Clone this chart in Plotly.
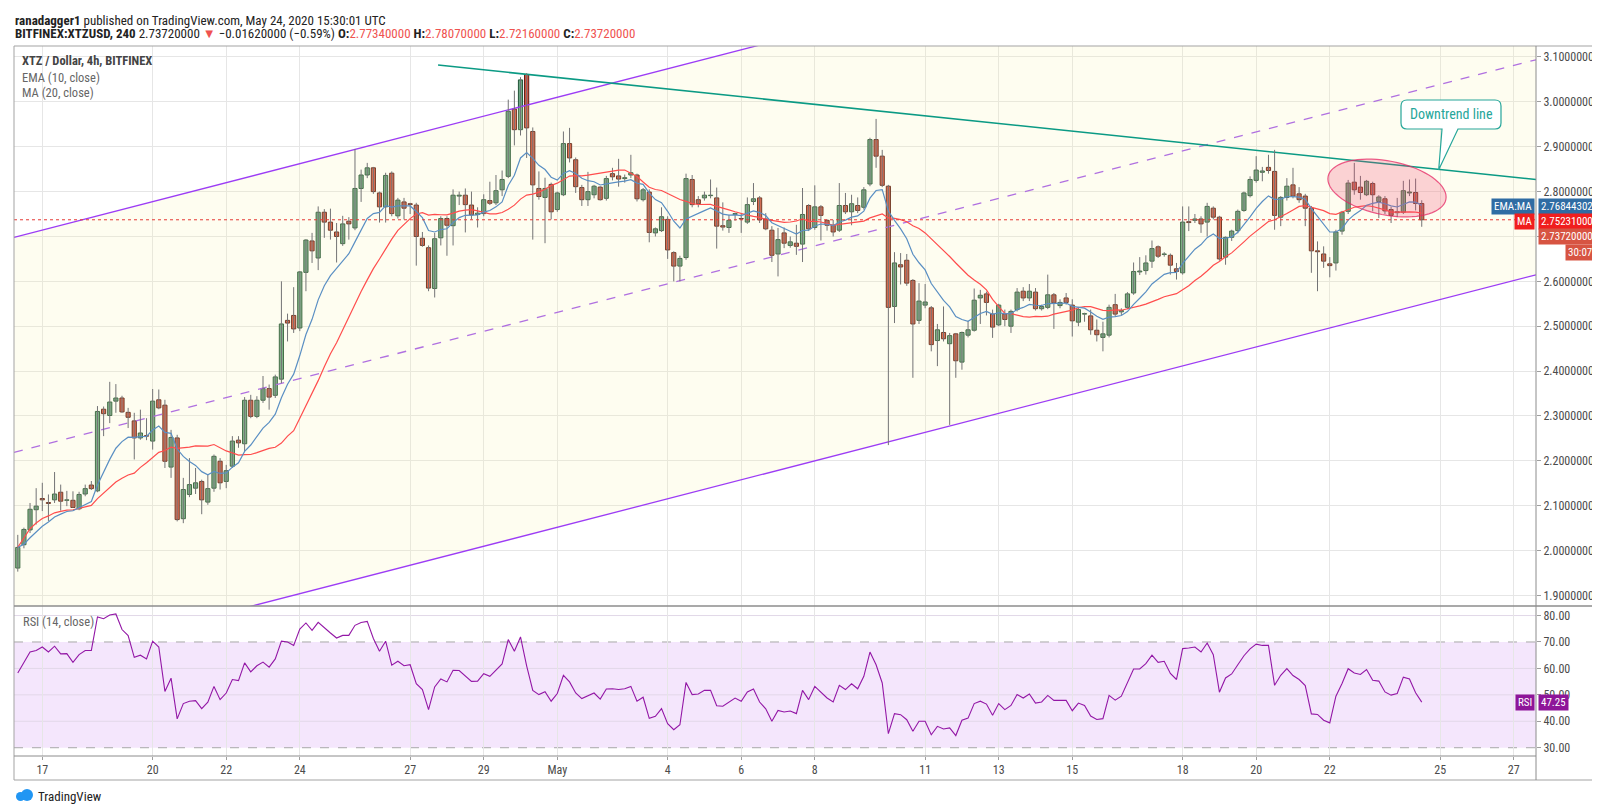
import numpy as np
import pandas as pd
import plotly.graph_objects as go

# BITFINEX:XTZUSD 4h candles, first one opens 16 Apr 2020 08:00 UTC
first_candle = '2020-04-16 08:00'

opens = [
    1.961, 2.013, 2.046, 2.091, 2.116, 2.107, 2.113, 2.130, 2.112, 2.112,
    2.093, 2.126, 2.146, 2.133, 2.315, 2.301, 2.333, 2.340, 2.308, 2.289,
    2.251, 2.256, 2.244, 2.336, 2.324, 2.186, 2.251, 2.071, 2.125, 2.139,
    2.154, 2.108, 2.139, 2.199, 2.154, 2.188, 2.246, 2.238, 2.335, 2.299,
    2.335, 2.361, 2.346, 2.382, 2.513, 2.524, 2.496, 2.620, 2.690, 2.652,
    2.754, 2.732, 2.710, 2.684, 2.734, 2.719, 2.807, 2.837, 2.853, 2.797,
    2.766, 2.841, 2.746, 2.777, 2.773, 2.770, 2.696, 2.675, 2.584, 2.697,
    2.740, 2.724, 2.790, 2.792, 2.770, 2.749, 2.751, 2.780, 2.775, 2.804,
    2.834, 2.984, 2.938, 3.061, 2.934, 2.807, 2.787, 2.816, 2.760, 2.793,
    2.907, 2.871, 2.809, 2.782, 2.793, 2.810, 2.785, 2.840, 2.835, 2.829,
    2.837, 2.837, 2.782, 2.799, 2.708, 2.713, 2.738, 2.664, 2.634, 2.653,
    2.827, 2.782, 2.786, 2.791, 2.786, 2.724, 2.720, 2.749, 2.740, 2.732,
    2.778, 2.786, 2.739, 2.714, 2.661, 2.708, 2.680, 2.685, 2.683, 2.769,
    2.720, 2.766, 2.736, 2.725, 2.714, 2.769, 2.755, 2.769, 2.765, 2.817,
    2.916, 2.879, 2.812, 2.544, 2.637, 2.647, 2.602, 2.513, 2.547, 2.541,
    2.468, 2.486, 2.461, 2.483, 2.420, 2.480, 2.491, 2.563, 2.572, 2.527,
    2.503, 2.527, 2.500, 2.537, 2.578, 2.563, 2.576, 2.539, 2.542, 2.570,
    2.546, 2.563, 2.547, 2.509, 2.527, 2.523, 2.491, 2.475, 2.480, 2.548,
    2.532, 2.542, 2.574, 2.621, 2.624, 2.645, 2.677, 2.660, 2.658, 2.628,
    2.619, 2.733, 2.736, 2.739, 2.732, 2.763, 2.743, 2.654, 2.698, 2.713,
    2.758, 2.791, 2.825, 2.843, 2.854, 2.845, 2.743, 2.787, 2.815, 2.795,
    2.790, 2.763, 2.668, 2.661, 2.639, 2.641, 2.712, 2.756, 2.821, 2.810,
    2.793, 2.818, 2.778, 2.784, 2.760, 2.753, 2.754, 2.797, 2.798, 2.7734,
]
highs = [
    2.035, 2.051, 2.106, 2.139, 2.151, 2.125, 2.175, 2.147, 2.133, 2.132,
    2.131, 2.147, 2.155, 2.322, 2.321, 2.376, 2.371, 2.345, 2.318, 2.307,
    2.314, 2.295, 2.360, 2.359, 2.336, 2.269, 2.258, 2.162, 2.206, 2.184,
    2.158, 2.169, 2.214, 2.206, 2.191, 2.255, 2.255, 2.342, 2.347, 2.344,
    2.389, 2.370, 2.392, 2.600, 2.528, 2.587, 2.623, 2.694, 2.708, 2.767,
    2.761, 2.762, 2.730, 2.746, 2.743, 2.895, 2.849, 2.864, 2.855, 2.800,
    2.842, 2.845, 2.786, 2.786, 2.775, 2.775, 2.710, 2.680, 2.708, 2.745,
    2.745, 2.805, 2.800, 2.807, 2.800, 2.765, 2.794, 2.822, 2.837, 2.847,
    3.005, 3.025, 3.055, 3.064, 2.943, 2.845, 2.831, 2.820, 2.800, 2.934,
    2.942, 2.876, 2.815, 2.844, 2.815, 2.812, 2.835, 2.853, 2.873, 2.838,
    2.882, 2.840, 2.808, 2.805, 2.720, 2.765, 2.745, 2.667, 2.657, 2.840,
    2.837, 2.790, 2.800, 2.827, 2.809, 2.776, 2.748, 2.753, 2.751, 2.787,
    2.819, 2.790, 2.752, 2.723, 2.719, 2.720, 2.700, 2.726, 2.808, 2.772,
    2.814, 2.770, 2.738, 2.737, 2.819, 2.797, 2.793, 2.787, 2.810, 2.920,
    2.962, 2.893, 2.815, 2.665, 2.663, 2.661, 2.605, 2.596, 2.594, 2.545,
    2.505, 2.544, 2.485, 2.485, 2.488, 2.512, 2.584, 2.581, 2.577, 2.537,
    2.550, 2.537, 2.537, 2.585, 2.587, 2.594, 2.585, 2.548, 2.615, 2.574,
    2.560, 2.574, 2.560, 2.543, 2.530, 2.537, 2.515, 2.510, 2.548, 2.572,
    2.540, 2.576, 2.642, 2.654, 2.658, 2.691, 2.680, 2.665, 2.662, 2.641,
    2.767, 2.767, 2.750, 2.745, 2.775, 2.767, 2.746, 2.700, 2.715, 2.760,
    2.800, 2.834, 2.879, 2.855, 2.882, 2.893, 2.790, 2.830, 2.853, 2.810,
    2.795, 2.768, 2.689, 2.678, 2.654, 2.715, 2.757, 2.826, 2.864, 2.835,
    2.826, 2.822, 2.792, 2.790, 2.766, 2.786, 2.824, 2.827, 2.829, 2.7807,
]
lows = [
    1.953, 2.005, 2.039, 2.058, 2.088, 2.066, 2.106, 2.089, 2.099, 2.095,
    2.090, 2.121, 2.135, 2.130, 2.255, 2.284, 2.307, 2.307, 2.273, 2.203,
    2.247, 2.246, 2.225, 2.315, 2.184, 2.162, 2.065, 2.061, 2.119, 2.126,
    2.081, 2.102, 2.131, 2.136, 2.139, 2.184, 2.229, 2.222, 2.295, 2.295,
    2.329, 2.314, 2.340, 2.373, 2.466, 2.485, 2.489, 2.578, 2.641, 2.625,
    2.697, 2.693, 2.642, 2.679, 2.693, 2.714, 2.777, 2.830, 2.795, 2.731,
    2.731, 2.745, 2.740, 2.738, 2.750, 2.635, 2.677, 2.578, 2.564, 2.680,
    2.657, 2.680, 2.770, 2.709, 2.738, 2.720, 2.745, 2.770, 2.770, 2.790,
    2.830, 2.903, 2.925, 2.875, 2.693, 2.782, 2.685, 2.738, 2.755, 2.790,
    2.865, 2.797, 2.768, 2.768, 2.785, 2.780, 2.780, 2.825, 2.811, 2.820,
    2.830, 2.778, 2.778, 2.687, 2.700, 2.710, 2.650, 2.600, 2.600, 2.648,
    2.765, 2.765, 2.780, 2.785, 2.673, 2.713, 2.708, 2.735, 2.708, 2.728,
    2.770, 2.730, 2.714, 2.643, 2.611, 2.674, 2.675, 2.659, 2.643, 2.712,
    2.715, 2.691, 2.713, 2.700, 2.710, 2.750, 2.725, 2.752, 2.760, 2.812,
    2.853, 2.810, 2.235, 2.507, 2.593, 2.590, 2.385, 2.505, 2.540, 2.444,
    2.411, 2.466, 2.280, 2.385, 2.403, 2.475, 2.488, 2.505, 2.524, 2.474,
    2.500, 2.500, 2.485, 2.533, 2.556, 2.556, 2.535, 2.535, 2.538, 2.494,
    2.540, 2.548, 2.477, 2.500, 2.510, 2.481, 2.466, 2.444, 2.475, 2.522,
    2.525, 2.538, 2.570, 2.614, 2.615, 2.630, 2.652, 2.655, 2.615, 2.604,
    2.615, 2.712, 2.730, 2.708, 2.700, 2.738, 2.646, 2.637, 2.690, 2.707,
    2.755, 2.787, 2.820, 2.823, 2.840, 2.715, 2.723, 2.780, 2.785, 2.775,
    2.723, 2.619, 2.578, 2.630, 2.609, 2.624, 2.704, 2.750, 2.793, 2.782,
    2.790, 2.756, 2.741, 2.750, 2.730, 2.743, 2.750, 2.790, 2.758, 2.7216,
]
closes = [
    2.007, 2.047, 2.092, 2.099, 2.113, 2.105, 2.126, 2.110, 2.113, 2.096,
    2.125, 2.138, 2.138, 2.310, 2.305, 2.331, 2.340, 2.309, 2.297, 2.251,
    2.262, 2.255, 2.333, 2.318, 2.199, 2.252, 2.069, 2.136, 2.147, 2.151,
    2.113, 2.138, 2.210, 2.151, 2.178, 2.244, 2.240, 2.335, 2.299, 2.335,
    2.361, 2.342, 2.387, 2.505, 2.507, 2.494, 2.621, 2.692, 2.668, 2.754,
    2.732, 2.714, 2.700, 2.728, 2.728, 2.807, 2.837, 2.853, 2.800, 2.766,
    2.836, 2.751, 2.781, 2.763, 2.771, 2.700, 2.680, 2.585, 2.695, 2.740,
    2.725, 2.792, 2.792, 2.771, 2.748, 2.752, 2.782, 2.774, 2.802, 2.827,
    2.979, 2.938, 3.049, 2.942, 2.815, 2.789, 2.807, 2.755, 2.797, 2.907,
    2.875, 2.811, 2.782, 2.800, 2.812, 2.782, 2.829, 2.833, 2.828, 2.831,
    2.842, 2.784, 2.804, 2.709, 2.717, 2.744, 2.670, 2.634, 2.651, 2.829,
    2.771, 2.773, 2.792, 2.792, 2.723, 2.721, 2.736, 2.751, 2.739, 2.771,
    2.784, 2.737, 2.717, 2.658, 2.693, 2.685, 2.688, 2.678, 2.749, 2.717,
    2.766, 2.747, 2.725, 2.710, 2.769, 2.755, 2.773, 2.758, 2.804, 2.916,
    2.879, 2.814, 2.542, 2.641, 2.632, 2.596, 2.505, 2.556, 2.554, 2.459,
    2.492, 2.472, 2.479, 2.423, 2.486, 2.492, 2.558, 2.569, 2.553, 2.498,
    2.547, 2.515, 2.533, 2.576, 2.563, 2.578, 2.539, 2.544, 2.570, 2.552,
    2.553, 2.553, 2.512, 2.537, 2.528, 2.492, 2.481, 2.483, 2.542, 2.527,
    2.535, 2.572, 2.622, 2.623, 2.641, 2.673, 2.656, 2.661, 2.636, 2.622,
    2.732, 2.731, 2.739, 2.728, 2.767, 2.743, 2.650, 2.698, 2.712, 2.756,
    2.797, 2.827, 2.848, 2.846, 2.847, 2.747, 2.787, 2.812, 2.790, 2.782,
    2.763, 2.668, 2.666, 2.645, 2.635, 2.710, 2.754, 2.819, 2.804, 2.798,
    2.823, 2.793, 2.788, 2.757, 2.747, 2.755, 2.802, 2.799, 2.7734, 2.7372,
]
rsi_values = [
    58.3, 62.3, 66.2, 66.8, 68.1, 66.2, 68.4, 65.5, 65.6, 62.3,
    65.2, 66.8, 66.8, 79.5, 78.8, 80.2, 80.6, 74.7, 72.4, 64.2,
    65.0, 63.6, 70.3, 68.1, 51.3, 56.3, 40.9, 46.7, 47.6, 47.8,
    44.8, 47.2, 53.2, 48.2, 50.7, 55.8, 55.4, 62.1, 58.7, 61.0,
    62.4, 60.5, 63.6, 70.3, 70.0, 68.7, 74.9, 77.2, 74.4, 77.4,
    75.3, 73.4, 71.5, 72.5, 72.5, 76.3, 77.4, 77.8, 71.3, 66.5,
    70.3, 61.2, 62.7, 61.0, 61.4, 54.2, 52.0, 44.4, 53.0, 56.0,
    54.9, 59.3, 59.2, 57.3, 55.1, 55.2, 58.0, 57.0, 59.5, 61.7,
    70.9, 66.5, 71.9, 61.0, 51.7, 50.1, 51.2, 47.6, 50.5, 57.4,
    54.9, 50.7, 48.6, 49.7, 50.7, 48.4, 52.2, 52.3, 52.0, 52.3,
    53.2, 47.6, 49.1, 41.1, 41.9, 44.8, 39.1, 36.8, 38.7, 54.7,
    50.1, 50.3, 51.7, 51.7, 45.9, 45.7, 47.3, 48.8, 47.6, 51.1,
    52.2, 47.3, 44.7, 40.0, 44.1, 43.5, 43.9, 42.9, 51.7, 48.2,
    53.2, 51.1, 48.8, 47.3, 53.6, 52.0, 54.2, 52.3, 57.0, 66.2,
    61.4, 54.5, 35.3, 42.9, 42.5, 40.6, 36.2, 40.0, 40.0, 34.9,
    38.1, 37.1, 37.5, 34.6, 40.4, 41.2, 46.7, 47.6, 46.5, 42.3,
    46.7, 44.4, 46.0, 50.1, 48.8, 50.3, 46.9, 47.3, 49.8, 47.9,
    47.9, 47.9, 44.0, 46.9, 46.0, 42.0, 40.7, 41.0, 49.8, 48.0,
    49.5, 54.5, 59.8, 59.8, 61.8, 65.0, 62.3, 62.7, 58.1, 55.8,
    67.5, 67.7, 68.1, 66.2, 69.6, 65.2, 51.0, 56.4, 57.9, 61.4,
    64.8, 67.4, 69.2, 68.7, 68.7, 53.6, 57.4, 59.9, 57.3, 55.8,
    53.5, 42.8, 42.6, 40.4, 39.4, 49.5, 54.3, 59.9, 58.3, 57.7,
    59.6, 55.5, 55.2, 51.1, 49.9, 50.5, 56.7, 56.0, 50.8, 47.25,
]

day_ticks = ['2020-04-17', '2020-04-20', '2020-04-22', '2020-04-24', '2020-04-27',
             '2020-04-29', '2020-05-01', '2020-05-04', '2020-05-06', '2020-05-08',
             '2020-05-11', '2020-05-13', '2020-05-15', '2020-05-18', '2020-05-20',
             '2020-05-22', '2020-05-25', '2020-05-27']
day_labels = ['17', '20', '22', '24', '27', '29', 'May', '4', '6', '8',
              '11', '13', '15', '18', '20', '22', '25', '27']
price_ticks = [1.9, 2.0, 2.1, 2.2, 2.3, 2.4, 2.5, 2.6, 2.7, 2.8, 2.9, 3.0, 3.1]
hidden_price_ticks = [2.7]      # covered by the last-price tag on the original
rsi_ticks = [30, 40, 50, 60, 70, 80]

# drawn objects (time, price)
channel_time = ['2020-04-16 05:32', '2020-05-27 14:33']
channel_mid = [2.2187, 3.0938]
channel_half = 0.4792
downtrend_time = ['2020-04-27 18:12', '2020-05-27 14:33']
downtrend_price = [3.082, 2.827]
last_price = 2.7372

FONT = "Liberation Sans Narrow, Roboto Condensed, Arial Narrow, Liberation Sans, sans-serif"
GRID = '#e6e6e6'
UP, UP_EDGE = '#6ba583', '#225437'
DOWN, DOWN_EDGE = '#d75442', '#5b1a13'

times = pd.date_range(first_candle, periods=len(closes), freq='4h')
o = np.array(opens)
c = np.array(closes)
ema10 = pd.Series(closes).ewm(span=10, adjust=False).mean()
ma20 = pd.Series(closes).rolling(20, min_periods=1).mean()

# pixel -> paper helpers for the overlay drawings
L, R, T, B = 6, 1528, 38, 748


def fx(x):
    return (x - L) / (R - L)


def fy(y):
    return (B - y) / (B - T)


fig = go.Figure()

# channel fill
fig.add_trace(go.Scatter(
    x=[channel_time[0], channel_time[1], channel_time[1], channel_time[0], channel_time[0]],
    y=[channel_mid[0] + channel_half, channel_mid[1] + channel_half,
       channel_mid[1] - channel_half, channel_mid[0] - channel_half,
       channel_mid[0] + channel_half],
    fill='toself', fillcolor='rgba(250,240,160,0.16)', mode='none',
    hoverinfo='skip', xaxis='x', yaxis='y'))

for off, dash in [(channel_half, 'solid'), (-channel_half, 'solid'), (0, 'dash')]:
    fig.add_trace(go.Scatter(
        x=channel_time, y=[channel_mid[0] + off, channel_mid[1] + off],
        mode='lines', line=dict(color='#9c3cf5' if dash == 'solid' else '#b070e0',
                                width=1.3, dash=dash),
        hoverinfo='skip', xaxis='x', yaxis='y'))

fig.add_trace(go.Scatter(x=downtrend_time, y=downtrend_price, mode='lines',
                         line=dict(color='#0b9a84', width=1.6),
                         hoverinfo='skip', xaxis='x', yaxis='y'))

# wicks
wick_x, wick_y = [], []
for t, h, lo in zip(times, highs, lows):
    wick_x += [t, t, None]
    wick_y += [lo, h, None]
fig.add_trace(go.Scatter(x=wick_x, y=wick_y, mode='lines',
                         line=dict(color='#737375', width=1),
                         hoverinfo='skip', xaxis='x', yaxis='y'))

# bodies
body_w = 4 * 3600 * 1000 * 0.68
up = c >= o
for mask, fill, edge in [(up, UP, UP_EDGE), (~up, DOWN, DOWN_EDGE)]:
    fig.add_trace(go.Bar(
        x=times[mask], y=np.abs(c - o)[mask], base=np.minimum(o, c)[mask],
        width=body_w, marker=dict(color=fill, line=dict(color=edge, width=1)),
        hoverinfo='skip', xaxis='x', yaxis='y'))

fig.add_trace(go.Scatter(x=times, y=ma20, mode='lines',
                         line=dict(color='#ff4d4d', width=1.2),
                         hoverinfo='skip', xaxis='x', yaxis='y'))
fig.add_trace(go.Scatter(x=times, y=ema10, mode='lines',
                         line=dict(color='#5a8fc3', width=1.2),
                         hoverinfo='skip', xaxis='x', yaxis='y'))

fig.add_trace(go.Scatter(x=times, y=rsi_values, mode='lines',
                         line=dict(color='#9317a6', width=1.1),
                         hoverinfo='skip', xaxis='x2', yaxis='y2'))

shapes = []
# RSI band and grid
shapes.append(dict(type='rect', xref='paper', yref='y2', x0=0, x1=1, y0=30, y1=70,
                   fillcolor='#f4e6fc', line=dict(width=0), layer='below'))
for lvl in [40, 50, 60, 80]:
    shapes.append(dict(type='line', xref='paper', yref='y2', x0=0, x1=1, y0=lvl, y1=lvl,
                       line=dict(color='#e2d8e8', width=1), layer='below'))
for lvl in [30, 70]:
    shapes.append(dict(type='line', xref='paper', yref='y2', x0=0, x1=1, y0=lvl, y1=lvl,
                       line=dict(color='#a8a8a8', width=1, dash='dash'), layer='below'))
# current price line
shapes.append(dict(type='line', xref='paper', yref='y', x0=0, x1=1,
                   y0=last_price, y1=last_price,
                   line=dict(color='#e53935', width=1, dash='dot')))


# frame
def pline(x0, y0, x1, y1, color='#a3a3a3', width=1):
    return dict(type='line', xref='paper', yref='paper', x0=fx(x0), y0=fy(y0),
                x1=fx(x1), y1=fy(y1), line=dict(color=color, width=width))


shapes += [
    pline(6, 38, 1596, 38), pline(6, 772, 1596, 772),
    pline(6, 38, 6, 772), pline(1596, 38, 1596, 772),
    pline(1528, 38, 1528, 772, '#8c8c8c'),
    pline(6, 598, 1596, 598, '#8c8c8c', 1.6),
    pline(6, 748, 1528, 748, '#8c8c8c'),
]

# ellipse around the consolidation
cx, cy, ea, eb, phi = 1379, 180, 60, 27, np.radians(11)
ang = np.linspace(0, 2 * np.pi, 73)
ex = cx + ea * np.cos(ang) * np.cos(phi) - eb * np.sin(ang) * np.sin(phi)
ey = cy + ea * np.cos(ang) * np.sin(phi) + eb * np.sin(ang) * np.cos(phi)
path = 'M ' + ' L '.join(f'{fx(a):.5f},{fy(b):.5f}' for a, b in zip(ex, ey)) + ' Z'
shapes.append(dict(type='path', xref='paper', yref='paper', path=path,
                   fillcolor='rgba(240,60,110,0.22)',
                   line=dict(color='rgba(230,40,100,0.75)', width=1.2)))

# callout box
bx0, by0, bx1, by1, rr = 1393, 92, 1493, 121, 6
pts = [('M', 1393 + rr, by0), ('L', bx1 - rr, by0), ('Q', bx1, by0, bx1, by0 + rr),
       ('L', bx1, by1 - rr), ('Q', bx1, by1, bx1 - rr, by1), ('L', 1450, by1),
       ('L', 1430.7, 161.7), ('L', 1434, by1), ('L', bx0 + rr, by1),
       ('Q', bx0, by1, bx0, by1 - rr), ('L', bx0, by0 + rr), ('Q', bx0, by0, bx0 + rr, by0)]
cp = ''
for p in pts:
    coords = p[1:]
    cp += p[0] + ' ' + ' '.join(f'{fx(coords[i]):.5f},{fy(coords[i + 1]):.5f}'
                                for i in range(0, len(coords), 2)) + ' '
shapes.append(dict(type='path', xref='paper', yref='paper', path=cp + 'Z',
                   fillcolor='white', line=dict(color='#26a69a', width=1.2)))

# TradingView logo (simple cloud)
shapes += [
    dict(type='circle', xref='paper', yref='paper', x0=fx(8), x1=fx(17), y0=fy(793), y1=fy(784),
         fillcolor='#2196f3', line=dict(width=0)),
    dict(type='circle', xref='paper', yref='paper', x0=fx(13), x1=fx(25), y0=fy(793), y1=fy(781),
         fillcolor='#2196f3', line=dict(width=0)),
]

ann = []


def text(x, y, s, size=12, color='#333', anchor='left', **kw):
    ann.append(dict(xref='paper', yref='paper', x=fx(x), y=fy(y), text=s, showarrow=False,
                    xanchor=anchor, yanchor='middle',
                    font=dict(family=FONT, size=size, color=color), **kw))


def tag(x, y, s, bg, anchor='left'):
    ann.append(dict(xref='paper', yref='paper', x=fx(x), y=fy(y), text=s,
                    showarrow=False, xanchor=anchor, yanchor='middle',
                    height=11, borderpad=2, bgcolor=bg,
                    font=dict(family=FONT, size=11, color='white')))


red = '#ef5350'
text(5, 12, '<b>ranadagger1</b> published on TradingView.com, May 24, 2020 15:30:01 UTC', 13, '#222')
text(5, 25, '<b>BITFINEX:XTZUSD, 240</b> 2.73720000 '
     f"<span style='color:{red}'>▼</span> −0.01620000 (−0.59%) "
     f"<b>O:</b><span style='color:{red}'>2.77340000</span> "
     f"<b>H:</b><span style='color:{red}'>2.78070000</span> "
     f"<b>L:</b><span style='color:{red}'>2.72160000</span> "
     f"<b>C:</b><span style='color:{red}'>2.73720000</span>", 13, '#222')
text(12, 53, '<b>XTZ / Dollar, 4h, BITFINEX</b>', 12.5, '#444')
text(12, 69, 'EMA (10, close)', 12.5, '#666')
text(12, 84, 'MA (20, close)', 12.5, '#666')
text(13, 613, 'RSI (14, close)', 12.5, '#666')
text(1443, 106, 'Downtrend line', 14, '#26a69a', anchor='center')
text(28, 788, 'TradingView', 13, '#222')

tag(1527, 198, 'EMA:MA', '#2f6ca3', 'right')
tag(1530, 198, '2.76844302', '#2f6ca3')
tag(1527, 213.5, 'MA', '#f01e1e', 'right')
tag(1530, 213.5, '2.75231000', '#f01e1e')
tag(1530, 228.8, '2.73720000', DOWN)
tag(1557, 245, '30:07', DOWN)
tag(1527, 694.5, 'RSI', '#8e1599', 'right')
tag(1530, 694.5, '47.25', '#8e1599')

x_range = ['2020-04-16 05:32', '2020-05-27 14:33']
tick_font = dict(family=FONT, size=12, color='#4b4b4b')

fig.update_layout(
    width=1600, height=805,
    margin=dict(l=6, r=72, t=38, b=57),
    paper_bgcolor='white', plot_bgcolor='white',
    showlegend=False, barmode='overlay',
    font=dict(family=FONT, size=12, color='#4b4b4b'),
    xaxis=dict(type='date', domain=[0, 1], anchor='y', range=x_range,
               tickvals=day_ticks, showticklabels=False, ticks='',
               showgrid=True, gridcolor=GRID, zeroline=False, showline=False),
    xaxis2=dict(type='date', domain=[0, 1], anchor='y2', range=x_range, matches='x',
                tickvals=day_ticks, ticktext=day_labels, ticks='outside', ticklen=3,
                tickcolor='#9e9e9e', tickfont=tick_font,
                showgrid=True, gridcolor=GRID, zeroline=False, showline=False),
    yaxis=dict(domain=[0.2117, 1], anchor='x', side='right', range=[1.8771, 3.1245],
               tickvals=price_ticks,
               ticktext=['' if v in hidden_price_ticks else f'{v:.8f}' for v in price_ticks],
               ticks='outside', ticklen=4, tickcolor='#9e9e9e', tickfont=tick_font,
               showgrid=True, gridcolor=GRID, zeroline=False, showline=False),
    yaxis2=dict(domain=[0, 0.2106], anchor='x2', side='right', range=[26.87, 83.43],
                tickvals=rsi_ticks, ticktext=[f'{v:.2f}' for v in rsi_ticks],
                ticks='outside', ticklen=4, tickcolor='#9e9e9e', tickfont=tick_font,
                showgrid=False, zeroline=False, showline=False),
    shapes=shapes,
    annotations=ann,
)

fig.write_html("out.html")
